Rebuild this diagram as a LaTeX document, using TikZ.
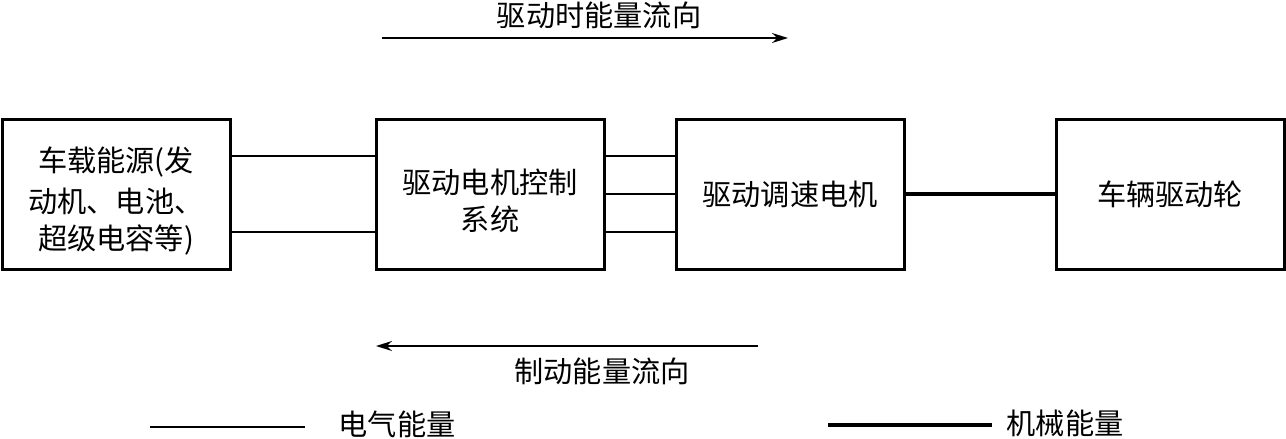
\documentclass[tikz,border=0pt]{standalone}
\usepackage{fontspec}
\setmainfont{Noto Sans CJK SC}
\usepackage{tikz}
\usetikzlibrary{arrows.meta}

\begin{document}
\begin{tikzpicture}[x=0.5pt,y=-0.5pt,
    font=\fontsize{14.6pt}{18pt}\selectfont,
    unit/.style={draw,line width=1.5pt,minimum width=114pt,minimum height=75pt,align=center,inner sep=0pt},
    elec/.style={line width=0.9pt},
    mech/.style={line width=2pt},
    flow/.style={line width=0.8pt,-{Stealth[length=8pt,width=5pt]}}]
    \useasboundingbox (0,0) rectangle (1286,439);
    % blocks
    \node[unit] (src) at (116,194) {\raisebox{-3.5pt}[\height][\depth]{\shortstack{车载能源(发\\[2pt]动机、电池、\\[2pt]超级电容等)}}};
    \node[unit] (ctrl) at (490,194) {\raisebox{-3.5pt}[\height][\depth]{\shortstack{驱动电机控制\\[2pt]系统}}};
    \node[unit] (motor) at (790,194) {驱动调速电机};
    \node[unit] (wheel) at (1170,194) {车辆驱动轮};
    % connections
    \draw[elec] ([yshift=19pt]src.east) -- ([yshift=19pt]ctrl.west);
    \draw[elec] ([yshift=-19pt]src.east) -- ([yshift=-19pt]ctrl.west);
    \foreach \dy in {19,0,-19}
        \draw[elec] ([yshift=\dy pt]ctrl.east) -- ([yshift=\dy pt]motor.east -| motor.west);
    \draw[mech] (motor.east) -- (wheel.west);
    % energy flow
    \coordinate (dstart) at (382,38);
    \coordinate (dend) at (788,38);
    \draw[flow] (dstart) -- (dend);
    \node (dtext) at (599,15) {驱动时能量流向};
    \coordinate (bstart) at (758,346);
    \coordinate (bend) at (376,346);
    \draw[flow] (bstart) -- (bend);
    \node (btext) at (602,371) {制动能量流向};
    % legend
    \coordinate (ea) at (150,427);
    \coordinate (eb) at (305,427);
    \draw[elec] (ea) -- (eb);
    \node (etext) at (397,424) {电气能量};
    \coordinate (ma) at (828,425);
    \coordinate (mb) at (992,425);
    \draw[mech] (ma) -- (mb);
    \node (mtext) at (1065,423) {机械能量};
\end{tikzpicture}
\end{document}
